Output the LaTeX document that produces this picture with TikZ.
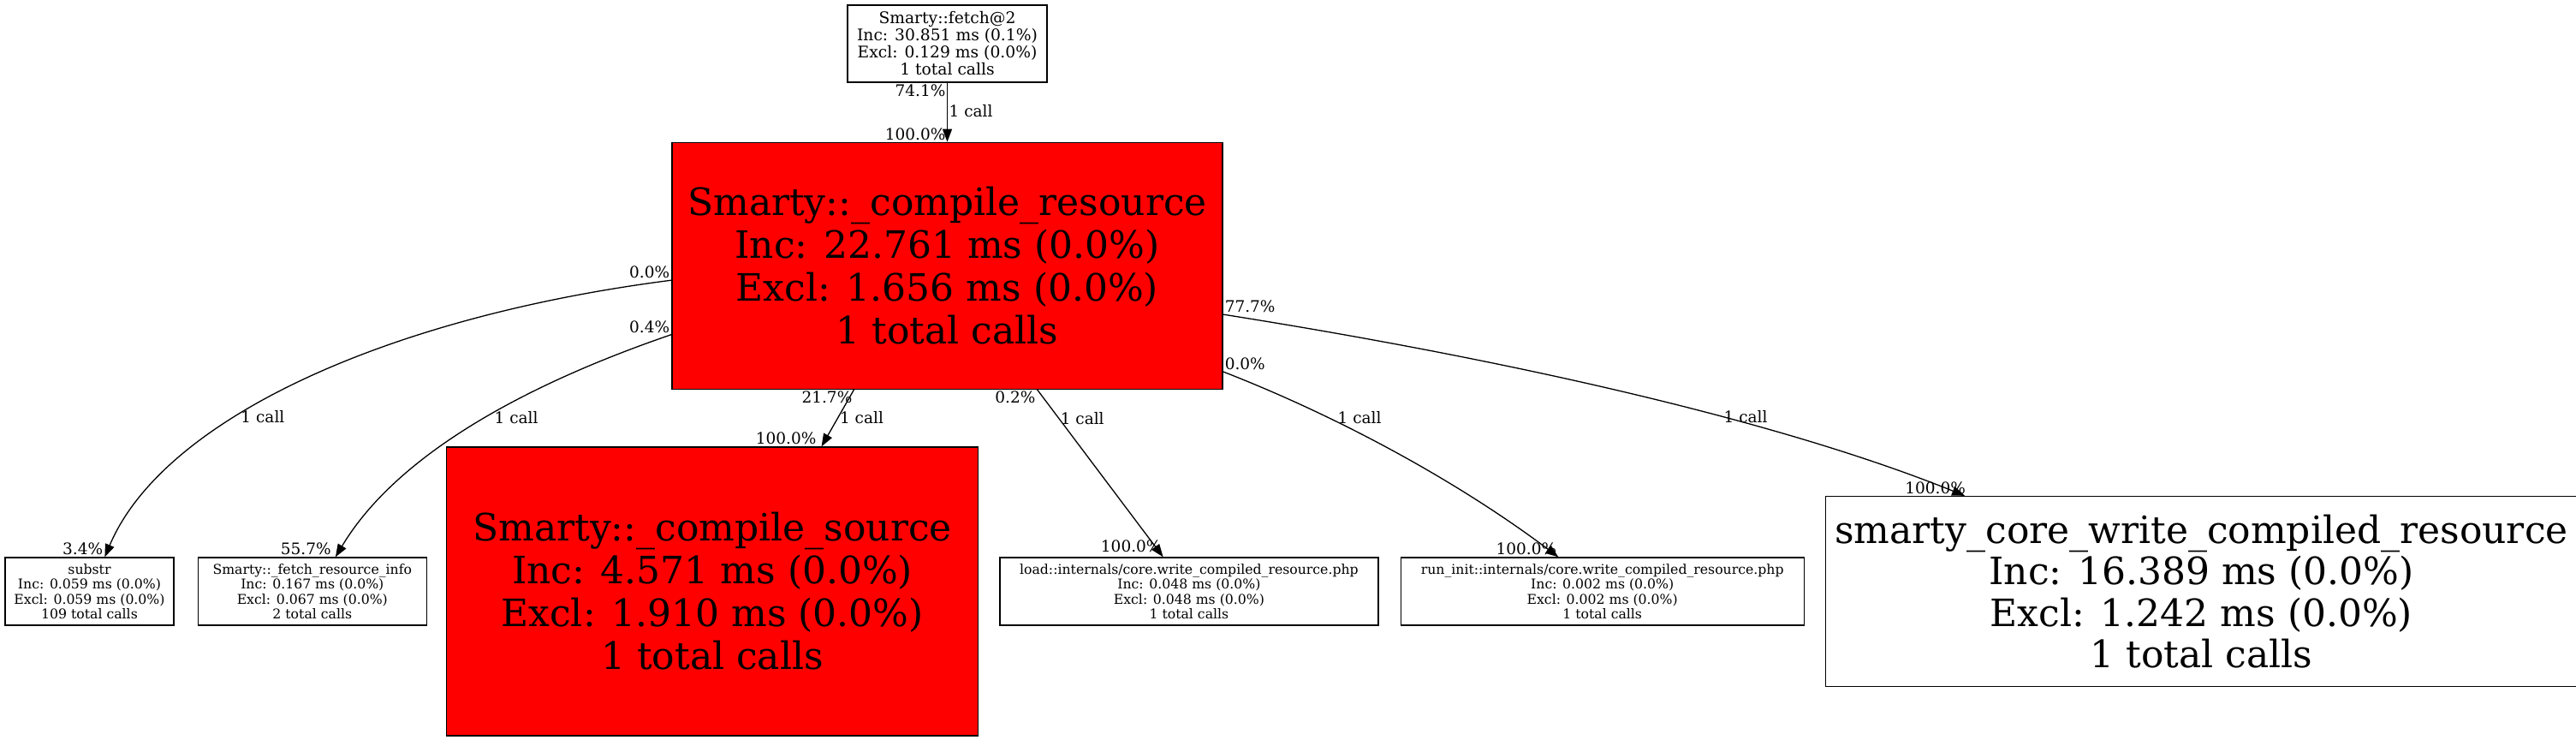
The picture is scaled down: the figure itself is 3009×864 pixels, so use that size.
\documentclass[tikz,border=0pt]{standalone}
\usepackage{fontspec}
\setmainfont{DejaVu Serif}
\usetikzlibrary{arrows.meta, positioning}
\tikzstyle{block} = [draw, rectangle, line width=1.3pt, align=center, inner sep=0pt]
\tikzstyle{root} = [block, font=\fontsize{18.7}{20}\selectfont]
\tikzstyle{hot} = [block, fill=red, font=\fontsize{44}{50}\selectfont]
\tikzstyle{cold} = [block, font=\fontsize{44}{48.5}\selectfont]
\tikzstyle{leaf} = [block, font=\fontsize{15.7}{17.3}\selectfont, minimum height=79pt]
\tikzstyle{arrow} = [arrows=->, line width=1.3pt]
\tikzstyle{lbl} = [font=\fontsize{18.5}{20}\selectfont, inner sep=1.5pt]

\begin{document}
\begin{tikzpicture}[x=1pt, y=-1pt, >={Triangle[length=15pt, width=11pt]}]
    \useasboundingbox (0,0) rectangle (3009,864);

    % Place the blocks
    \node [root, minimum width=233pt, minimum height=90pt] (fetch) at (1106.5,51)
        {Smarty::fetch@2\\Inc: 30.851 ms (0.1\%)\\Excl: 0.129 ms (0.0\%)\\1 total calls};
    \node [hot, minimum width=643pt, minimum height=288pt, below=69pt of fetch] (compres)
        {Smarty::\_compile\_resource\\Inc: 22.761 ms (0.0\%)\\Excl: 1.656 ms (0.0\%)\\1 total calls};
    \node [leaf, minimum width=197pt] (substr) at (104.5,690.5)
        {substr\\Inc: 0.059 ms (0.0\%)\\Excl: 0.059 ms (0.0\%)\\109 total calls};
    \node [leaf, minimum width=267pt, right=27pt of substr] (fri)
        {Smarty::\_fetch\_resource\_info\\Inc: 0.167 ms (0.0\%)\\Excl: 0.067 ms (0.0\%)\\2 total calls};
    \node [hot, minimum width=621pt, minimum height=337pt, right=22pt of fri] (compsrc)
        {Smarty::\_compile\_source\\Inc: 4.571 ms (0.0\%)\\Excl: 1.910 ms (0.0\%)\\1 total calls};
    \node [leaf, minimum width=442pt, right=24pt of compsrc] (load)
        {load::internals/core.write\_compiled\_resource.php\\Inc: 0.048 ms (0.0\%)\\Excl: 0.048 ms (0.0\%)\\1 total calls};
    \node [leaf, minimum width=471pt, right=25pt of load] (runinit)
        {run\_init::internals/core.write\_compiled\_resource.php\\Inc: 0.002 ms (0.0\%)\\Excl: 0.002 ms (0.0\%)\\1 total calls};
    \node [cold, minimum width=878pt, minimum height=222pt, right=24pt of runinit] (core)
        {smarty\_core\_write\_compiled\_resource\\Inc: 16.389 ms (0.0\%)\\Excl: 1.242 ms (0.0\%)\\1 total calls};

    % Connect the nodes
    \draw [arrow] (fetch) -- (compres)
        node [lbl, pos=0.48, anchor=west] {1 call}
        node [lbl, pos=0, anchor=north east] {74.1\%}
        node [lbl, pos=1, anchor=south east] {100.0\%};
    \draw [arrow] (compres.183.9) .. controls (450,370) and (190,490) .. (substr.66.1)
        node [lbl, pos=0.62, anchor=west, xshift=3pt] {1 call}
        node [lbl, pos=0, anchor=south east] {0.0\%}
        node [lbl, pos=1, anchor=south east] {3.4\%};
    \draw [arrow] (compres.194.1) .. controls (640,440) and (470,520) .. (fri.56.1)
        node [lbl, pos=0.49, anchor=west, xshift=8pt] {1 call}
        node [lbl, pos=0, anchor=south east] {0.4\%}
        node [lbl, pos=1, anchor=south east, xshift=-3pt] {55.7\%};
    \draw [arrow] (compres.233.8) -- (compsrc.53.5)
        node [lbl, pos=0.49, anchor=west] {1 call}
        node [lbl, pos=0, anchor=north east] {21.7\%}
        node [lbl, pos=1, anchor=south east, xshift=-4pt] {100.0\%};
    \draw [arrow] (compres.306.2) -- (load.127.2)
        node [lbl, pos=0.17, anchor=west] {1 call}
        node [lbl, pos=0, anchor=north east] {0.2\%}
        node [lbl, pos=1, anchor=south east, yshift=3pt] {100.0\%};
    \draw [arrow] (compres.339.1) .. controls (1560,485) and (1700,560) .. (runinit.142.5)
        node [lbl, pos=0.31, anchor=west, xshift=8pt] {1 call}
        node [lbl, pos=0, anchor=south west] {0.0\%}
        node [lbl, pos=1, anchor=south east] {100.0\%};
    \draw [arrow] (compres.350) .. controls (1700,410) and (2050,480) .. (core.158.6)
        node [lbl, pos=0.655, anchor=west] {1 call}
        node [lbl, pos=0, anchor=south west] {77.7\%}
        node [lbl, pos=1, anchor=south east, xshift=3pt] {100.0\%};
\end{tikzpicture}
\end{document}
